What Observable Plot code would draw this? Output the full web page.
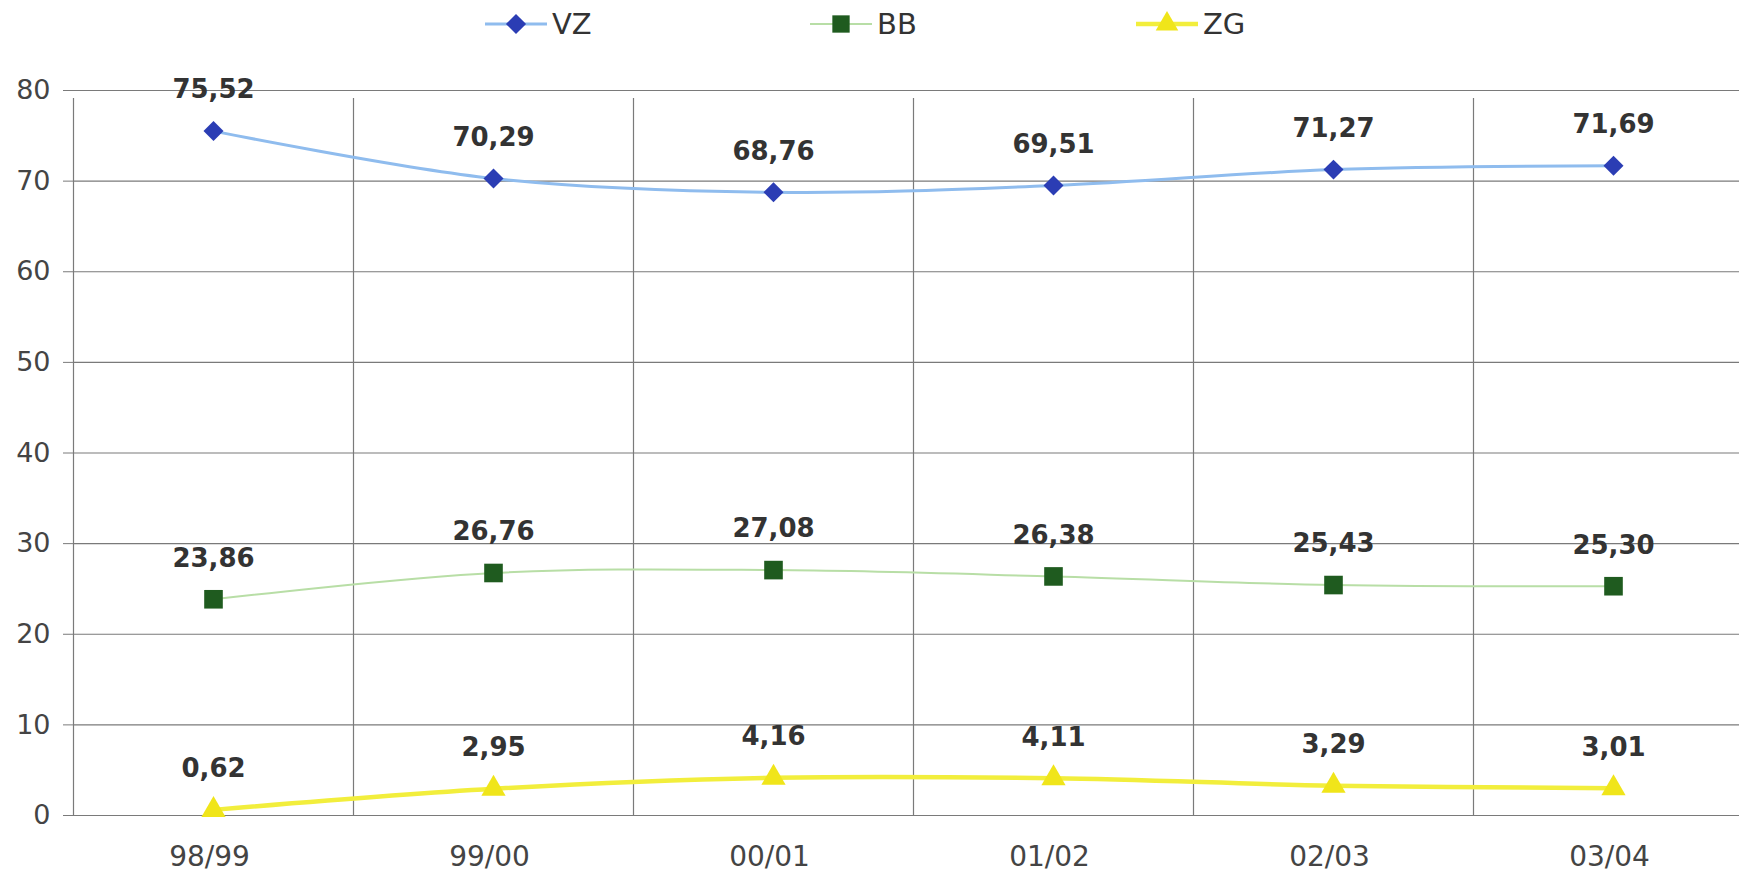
<!DOCTYPE html>
<html>
<head>
<meta charset="utf-8">
<script src="https://cdn.jsdelivr.net/npm/d3@7"></script>
<script src="https://cdn.jsdelivr.net/npm/@observablehq/plot@0.6"></script>
<style>
  html, body { margin: 0; padding: 0; background: #fff; overflow: hidden; }
  #legend { position: relative; height: 50px; width: 1739px; font-family: "DejaVu Sans", sans-serif; font-size: 29px; color: #333; }
  .item { position: absolute; top: 6px; display: flex; align-items: center; height: 36px; }
  .item svg { display: block; }
  .item span { margin-left: 5px; line-height: 36px; }
</style>
</head>
<body>
<div id="legend"></div>
<div id="chart"></div>
<script>
const categories = ["98/99", "99/00", "00/01", "01/02", "02/03", "03/04"];
const seriesNames = ["VZ", "BB", "ZG"];
const vz = [75.52, 70.29, 68.76, 69.51, 71.27, 71.69];
const bb = [23.86, 26.76, 27.08, 26.38, 25.43, 25.30];
const zg = [0.62, 2.95, 4.16, 4.11, 3.29, 3.01];
const yTicks = [0, 10, 20, 30, 40, 50, 60, 70, 80];

const lineColors = { VZ: "#8fbcee", BB: "#b8dea6", ZG: "#f2ee3c" };
const markColors = { VZ: "#2b3db4", BB: "#1f5b1f", ZG: "#f0e51a" };
const symbols = { VZ: "diamond2", BB: "square", ZG: "triangle" };
const radii = { VZ: 9, BB: 10.5, ZG: 9 };
const widths = { VZ: 3, BB: 2, ZG: 4.5 };

const seriesValues = { VZ: vz, BB: bb, ZG: zg };
const rows = [];
for (const s of seriesNames) {
  categories.forEach((c, i) => rows.push({ series: s, cat: c, value: seriesValues[s][i] }));
}

// Legend (HTML above the SVG)
const legend = document.getElementById("legend");
const legendLeft = { VZ: 485, BB: 810, ZG: 1136 };
for (const s of seriesNames) {
  const item = document.createElement("div");
  item.className = "item";
  item.style.left = legendLeft[s] + "px";
  const sym = d3.symbol().type(s === "VZ" ? d3.symbolDiamond2 : s === "BB" ? d3.symbolSquare : d3.symbolTriangle)
    .size(s === "VZ" ? 260 : s === "BB" ? 300 : 220)();
  item.innerHTML = `<svg width="62" height="36"><line x1="0" x2="62" y1="18" y2="18" stroke="${lineColors[s]}" stroke-width="${widths[s]}"/><path d="${sym}" transform="translate(31,18)" fill="${markColors[s]}"/></svg><span>${s}</span>`;
  legend.appendChild(item);
}

const fmt = v => v.toFixed(2).replace(".", ",");

const marks = [
  Plot.ruleY(yTicks, { stroke: "#7a7a7a", strokeWidth: 1.2 }),
  Plot.ruleX(categories, { x: d => d, dx: -140, y1: 0, y2: 80, insetBottom: -8, stroke: "#7a7a7a", strokeWidth: 1.2 }),
  Plot.axisY({ ticks: yTicks, tickSize: 10, tickPadding: 13, label: null, fontSize: 27, fill: "#444", stroke: "#7a7a7a" }),
  Plot.axisX({ tickSize: 0, tickPadding: 31, label: null, fontSize: 28, fill: "#444", dx: -4 })
];
for (const s of seriesNames) {
  const data = rows.filter(d => d.series === s);
  marks.push(Plot.line(data, { x: "cat", y: "value", stroke: lineColors[s], strokeWidth: widths[s], curve: "catmull-rom" }));
  marks.push(Plot.dot(data, { x: "cat", y: "value", symbol: symbols[s], r: radii[s], fill: markColors[s], stroke: "none" }));
  marks.push(Plot.text(data, { x: "cat", y: "value", text: d => fmt(d.value), dy: -41, fontWeight: "bold", fontSize: 26, fill: "#333" }));
}

const chart = Plot.plot({
  width: 1739,
  height: 822,
  marginTop: 40,
  marginBottom: 57,
  marginLeft: 73,
  marginRight: 0,
  x: { type: "point", domain: categories, range: [73, 1753], padding: 0.5 },
  y: { domain: [0, 80] },
  style: { fontFamily: "DejaVu Sans, sans-serif", fontSize: "26px", color: "#333", background: "#fff" },
  marks
});
document.getElementById("chart").appendChild(chart);
</script>
</body>
</html>
